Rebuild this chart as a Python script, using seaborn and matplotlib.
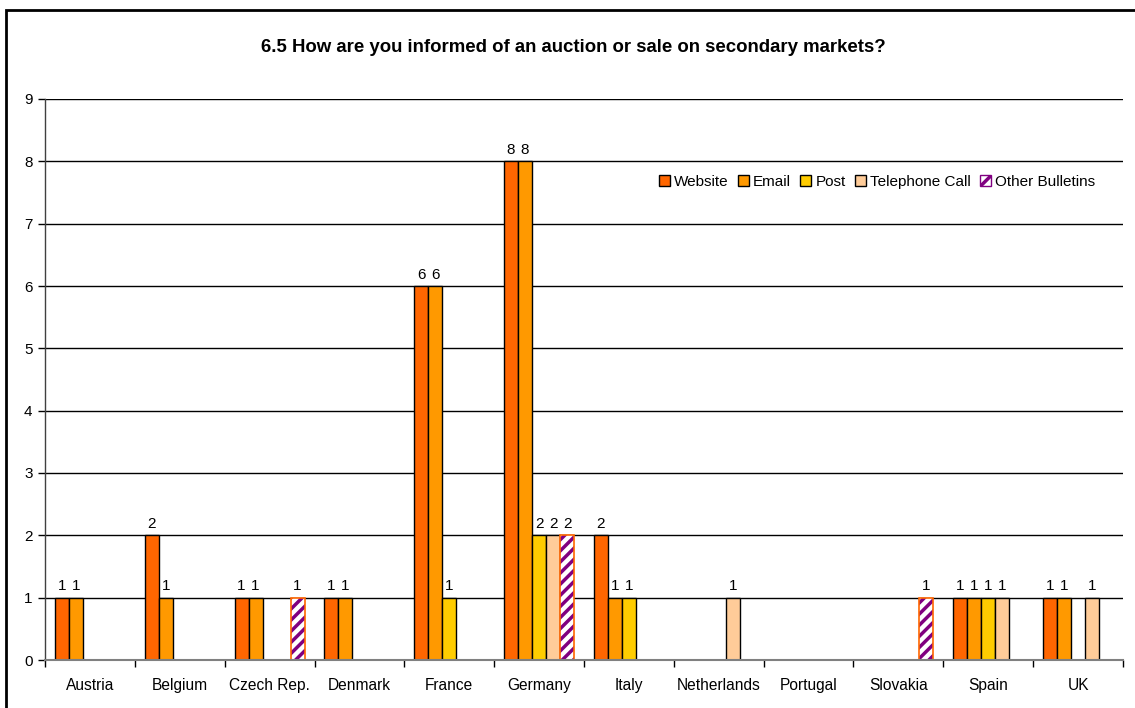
import matplotlib
matplotlib.use("Agg")
import matplotlib.pyplot as plt
import matplotlib.patches as mpatches
import seaborn as sns
import pandas as pd

countries = ["Austria", "Belgium", "Czech Rep.", "Denmark", "France", "Germany",
             "Italy", "Netherlands", "Portugal", "Slovakia", "Spain", "UK"]
channels = ["Website", "Email", "Post", "Telephone Call", "Other Bulletins"]

website   = [1, 2, 1, 1, 6, 8, 2, 0, 0, 0, 1, 1]
email     = [1, 1, 1, 1, 6, 8, 1, 0, 0, 0, 1, 1]
post      = [0, 0, 0, 0, 1, 2, 1, 0, 0, 0, 1, 0]
telephone = [0, 0, 0, 0, 0, 2, 0, 1, 0, 0, 1, 1]
other     = [0, 0, 1, 0, 0, 2, 0, 0, 0, 1, 0, 0]

title = "6.5 How are you informed of an auction or sale on secondary markets?"
yticks = list(range(0, 10))

colors = ["#FF6600", "#FF9900", "#FFCC00", "#FFCC99", "#FFFFFF"]
hatch_purple = "#800080"

series = [website, email, post, telephone, other]
df = pd.DataFrame({
    "country": [c for _ in channels for c in countries],
    "channel": [ch for ch in channels for _ in countries],
    "count": [v for s in series for v in s],
})

sns.set_theme(style="white")
plt.rcParams["font.family"] = ["Liberation Sans", "DejaVu Sans"]
plt.rcParams["hatch.linewidth"] = 2.5
plt.rcParams["text.color"] = "black"
plt.rcParams["xtick.color"] = "black"
plt.rcParams["ytick.color"] = "black"
plt.rcParams["axes.labelcolor"] = "black"

fig = plt.figure(figsize=(11.35, 7.08), dpi=100)
ax = fig.add_axes([45 / 1135, 1 - 660 / 708, (1123 - 45) / 1135, (660 - 99) / 708])

sns.barplot(data=df, x="country", y="count", hue="channel", order=countries,
            hue_order=channels, palette=colors, width=0.78, saturation=1,
            edgecolor="black", linewidth=1.0, errorbar=None, ax=ax, legend=True)

# Value labels on non-zero bars; hatched styling for the last series
for i, cont in enumerate(ax.containers):
    vals = series[i]
    labels = [str(v) if v else "" for v in vals]
    ax.bar_label(cont, labels=labels, padding=3, fontsize=11, color="black")
    if channels[i] == "Other Bulletins":
        for p in cont.patches:
            p.set_hatch("///")
            p.set_edgecolor(hatch_purple)
            p.set_linewidth(0)
            if p.get_height() > 0:
                ax.add_patch(mpatches.Rectangle(p.get_xy(), p.get_width(), p.get_height(),
                                                fill=False, edgecolor="#FF6600",
                                                linewidth=1.2, zorder=p.get_zorder() + 0.1))

ax.set_ylim(0, 9)
ax.set_xlim(-0.5, len(countries) - 0.5)
ax.set_yticks(yticks)
ax.set_yticklabels([str(t) for t in yticks], fontsize=11)
ax.yaxis.grid(True, color="black", linewidth=1.0)
ax.set_axisbelow(True)
ax.set_xlabel("")
ax.set_ylabel("")

ax.set_xticks(range(len(countries)))
ax.set_xticklabels(countries, fontsize=11.2)
ax.set_xticks([i - 0.5 for i in range(len(countries) + 1)], minor=True)
ax.tick_params(axis="x", which="major", length=0, pad=13, labelcolor="black")
ax.tick_params(axis="x", which="minor", length=5, width=1, color="black", direction="out", bottom=True)
ax.tick_params(axis="y", which="major", length=5, width=1, color="black", direction="out",
               left=True, pad=4, labelcolor="black")

for side in ["top", "right"]:
    ax.spines[side].set_visible(False)
ax.spines["left"].set_color("#404040")
ax.spines["bottom"].set_color("#808080")
ax.spines["left"].set_linewidth(1.0)
ax.spines["bottom"].set_linewidth(1.5)

leg = ax.legend(loc="center right", bbox_to_anchor=(0.98, 0.852), ncol=5, frameon=False,
                fontsize=11, handlelength=0.75, handleheight=0.75, handletextpad=0.25,
                columnspacing=0.6, borderaxespad=0, labelcolor="black")
for h in leg.legend_handles:
    h.set_linewidth(1.0)
leg.legend_handles[-1].set_edgecolor(hatch_purple)
leg.legend_handles[-1].set_hatch("//")

fig.text(573 / 1135, 1 - 47 / 708, title, ha="center", va="center",
         fontsize=13.4, fontweight="bold", color="black")

# Outer frame around the chart
fig.add_artist(mpatches.Rectangle((6 / 1135, -0.1), 1.2, 0.1 + (1 - 10 / 708),
                                  transform=fig.transFigure, fill=False,
                                  edgecolor="black", linewidth=2.0))

fig.savefig("out.png", dpi=100)
